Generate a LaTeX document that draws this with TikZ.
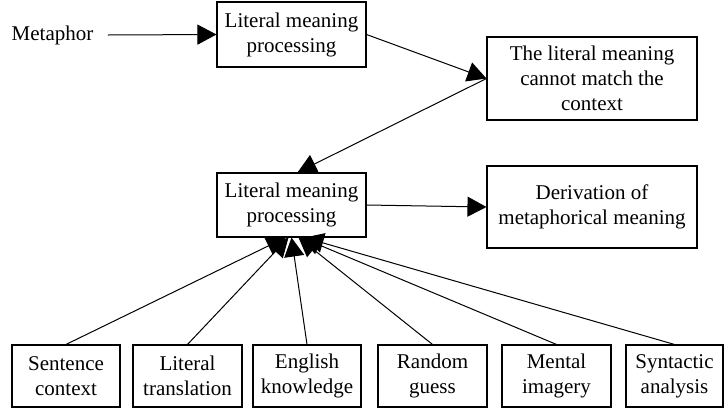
\documentclass[tikz,border=0pt]{standalone}
\usepackage{fontspec}
\setmainfont{Liberation Serif}
\newfontfamily\boxface{Liberation Serif}
\usetikzlibrary{arrows.meta}
\begin{document}
\begin{tikzpicture}[x=1pt,y=-1pt,
  every node/.style={font=\boxface\fontsize{21}{25}\selectfont, text=black},
  box/.style={draw=black, line width=1.1pt, align=center, inner sep=0pt},
  arr/.style={line width=1pt, -{Triangle[length=19pt,width=20pt]}}]
\useasboundingbox (0,0) rectangle (725,413);

% upper chain
\node (meta) at (52.5,35) {Metaphor};
\node[box, minimum width=149pt, minimum height=65pt] (b1) at (291.5,34.5) {Literal meaning\\processing};
\node[box, minimum width=210pt, minimum height=83pt] (b2) at (592,78.5) {The literal meaning\\cannot match the\\context};
\node[box, minimum width=149pt, minimum height=64pt] (b3) at (291.5,205) {Literal meaning\\processing};
\node[box, minimum width=210pt, minimum height=82pt] (b4) at (592,207) {Derivation of\\metaphorical meaning};

% sources along the bottom
\node[box, minimum width=108pt, minimum height=62pt] (s1) at (66,376) {Sentence\\context};
\node[box, minimum width=109pt, minimum height=62pt] (s2) at (187.5,376) {Literal\\translation};
\node[box, minimum width=108pt, minimum height=62pt] (s3) at (307,376) {English\\knowledge};
\node[box, minimum width=109pt, minimum height=62pt] (s4) at (432.5,376) {Random\\guess};
\node[box, minimum width=109pt, minimum height=62pt] (s5) at (556.5,376) {Mental\\imagery};
\node[box, minimum width=97pt, minimum height=62pt] (s6) at (674.5,376) {Syntactic\\analysis};

% connectors
\draw[arr] ([xshift=11pt]meta.east) -- (b1.west);
\draw[arr] (b1.east) -- (b2.west);
\draw[arr] (b2.west) -- ([xshift=6pt]b3.north);
\draw[arr] (b3.east) -- (b4.west);

\draw[arr] (s1.north) -- ([xshift=-6pt]b3.south);
\draw[arr] (s2.north) -- ([xshift=-3pt]b3.south);
\draw[arr] (s3.north) -- ([xshift=0pt]b3.south);
\draw[arr] (s4.north) -- ([xshift=7pt]b3.south);
\draw[arr] (s5.north) -- ([xshift=10pt]b3.south);
\draw[arr] (s6.north) -- ([xshift=13pt]b3.south);
\end{tikzpicture}
\end{document}
